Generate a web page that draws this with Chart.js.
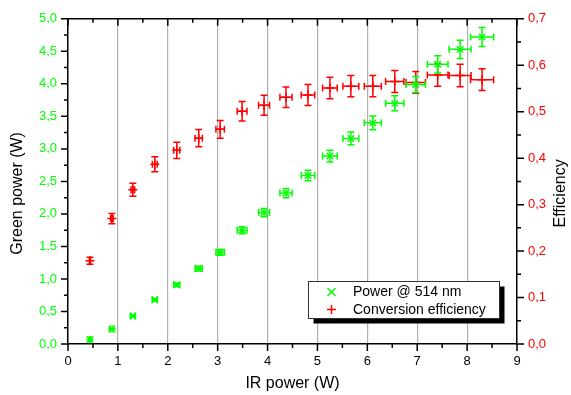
<!DOCTYPE html>
<html lang="en">
<head>
<meta charset="UTF-8">
<title>Green power and conversion efficiency</title>
<script src="https://cdn.jsdelivr.net/npm/chart.js"></script>
<style>
  body { margin: 0; background: #fff; }
  #wrap { width: 571px; height: 395px; }
</style>
</head>
<body>
<div id="wrap"><canvas id="chart"></canvas></div>
<script>
// IR pump power (W) with its error
const irPower    = [0.44, 0.88, 1.30, 1.74, 2.18, 2.62, 3.05, 3.49, 3.93, 4.37, 4.81, 5.25, 5.67, 6.11, 6.55, 6.97, 7.41, 7.86, 8.30];
const irPowerErr = [0.012, 0.025, 0.036, 0.049, 0.061, 0.073, 0.085, 0.098, 0.110, 0.122, 0.135, 0.147, 0.159, 0.171, 0.183, 0.195, 0.207, 0.220, 0.232];
// green output at 514 nm (W)
const greenPower    = [0.07, 0.23, 0.43, 0.68, 0.91, 1.16, 1.41, 1.75, 2.02, 2.32, 2.59, 2.89, 3.16, 3.40, 3.70, 3.99, 4.30, 4.53, 4.72];
const greenPowerErr = [0.003, 0.007, 0.013, 0.021, 0.028, 0.036, 0.044, 0.054, 0.063, 0.072, 0.080, 0.090, 0.098, 0.105, 0.115, 0.124, 0.133, 0.140, 0.146];
// conversion efficiency
const efficiency    = [0.179, 0.270, 0.332, 0.387, 0.417, 0.443, 0.462, 0.501, 0.514, 0.531, 0.536, 0.551, 0.555, 0.555, 0.565, 0.563, 0.579, 0.578, 0.569];
const efficiencyErr = [0.0075, 0.011, 0.014, 0.016, 0.0175, 0.0185, 0.019, 0.021, 0.0215, 0.022, 0.0225, 0.023, 0.023, 0.023, 0.0235, 0.0235, 0.024, 0.024, 0.0235];

const GREEN = '#00ff00';
const RED = '#ff0000';
const FONT = '"Liberation Sans", Arial, sans-serif';

const comma = v => v.toFixed(1).replace('.', ',');

const points = (ys, yErr) => irPower.map((x, i) => ({ x: x, y: ys[i], xErr: irPowerErr[i], yErr: yErr[i] }));

// crosshair error bars with caps
const errorBars = {
    id: 'errorBars',
    beforeDatasetDraw(chart, args) {
        const ctx = chart.ctx;
        const ds = chart.data.datasets[args.index];
        const xs = chart.scales[args.meta.xAxisID];
        const ys = chart.scales[args.meta.yAxisID];
        const cap = 3.5;
        ctx.save();
        ctx.strokeStyle = ds.borderColor;
        ctx.lineWidth = 1.5;
        ds.data.forEach(p => {
            const cx = xs.getPixelForValue(p.x), cy = ys.getPixelForValue(p.y);
            const x0 = xs.getPixelForValue(p.x - p.xErr), x1 = xs.getPixelForValue(p.x + p.xErr);
            const y0 = ys.getPixelForValue(p.y - p.yErr), y1 = ys.getPixelForValue(p.y + p.yErr);
            ctx.beginPath();
            ctx.moveTo(x0, cy); ctx.lineTo(x1, cy);
            ctx.moveTo(cx, y0); ctx.lineTo(cx, y1);
            ctx.moveTo(x0, cy - cap); ctx.lineTo(x0, cy + cap);
            ctx.moveTo(x1, cy - cap); ctx.lineTo(x1, cy + cap);
            ctx.moveTo(cx - cap, y0); ctx.lineTo(cx + cap, y0);
            ctx.moveTo(cx - cap, y1); ctx.lineTo(cx + cap, y1);
            ctx.stroke();
        });
        ctx.restore();
    }
};

// top frame, tick marks (major / minor), y titles and the boxed legend
const frame = {
    id: 'frame',
    afterDraw(chart) {
        const { ctx, chartArea: a, scales: { x, y, y2 } } = chart;
        const near = (v, step) => Math.abs(v / step - Math.round(v / step)) < 1e-6;
        ctx.save();
        ctx.strokeStyle = '#000';
        ctx.lineWidth = 1.5;
        ctx.beginPath();
        ctx.moveTo(a.left, a.top); ctx.lineTo(a.right, a.top);
        x.ticks.forEach(t => {
            const px = x.getPixelForValue(t.value);
            const len = near(t.value, 1) ? 7 : 4;
            ctx.moveTo(px, a.bottom); ctx.lineTo(px, a.bottom + len);
            ctx.moveTo(px, a.top); ctx.lineTo(px, a.top + len);
        });
        y.ticks.forEach(t => {
            const py = y.getPixelForValue(t.value);
            const len = near(t.value, 0.5) ? 7 : 4;
            ctx.moveTo(a.left - len, py); ctx.lineTo(a.left, py);
        });
        y2.ticks.forEach(t => {
            const py = y2.getPixelForValue(t.value);
            const len = near(t.value, 0.1) ? 7 : 4;
            ctx.moveTo(a.right, py); ctx.lineTo(a.right + len, py);
        });
        ctx.stroke();

        // axis titles (both read bottom to top)
        ctx.fillStyle = '#000';
        ctx.font = '16px ' + FONT;
        ctx.textAlign = 'center';
        ctx.textBaseline = 'middle';
        const midY = (a.top + a.bottom) / 2 + 12;
        [['Green power (W)', 18], ['Efficiency', 561]].forEach(([txt, tx]) => {
            ctx.save();
            ctx.translate(tx, midY);
            ctx.rotate(-Math.PI / 2);
            ctx.fillText(txt, 0, 0);
            ctx.restore();
        });

        // legend box with shadow
        const bx = a.right - 208.5, by = a.bottom - 62.5, bw = 191, bh = 37;
        ctx.fillStyle = '#000';
        ctx.fillRect(bx + 5, by + 5, bw, bh);
        ctx.fillStyle = '#fff';
        ctx.fillRect(bx, by, bw, bh);
        ctx.strokeStyle = '#333';
        ctx.lineWidth = 1;
        ctx.strokeRect(bx, by, bw, bh);
        ctx.font = '14px ' + FONT;
        ctx.textAlign = 'left';
        chart.data.datasets.forEach((ds, i) => {
            const ly = by + 10.5 + i * 17.5;
            const mx = bx + 23;
            ctx.strokeStyle = ds.borderColor;
            ctx.lineWidth = 1.5;
            ctx.beginPath();
            if (ds.pointStyle === 'crossRot') {
                ctx.moveTo(mx - 4, ly - 4); ctx.lineTo(mx + 4, ly + 4);
                ctx.moveTo(mx - 4, ly + 4); ctx.lineTo(mx + 4, ly - 4);
            } else {
                ctx.moveTo(mx - 4.5, ly); ctx.lineTo(mx + 4.5, ly);
                ctx.moveTo(mx, ly - 4.5); ctx.lineTo(mx, ly + 4.5);
            }
            ctx.stroke();
            ctx.fillStyle = '#000';
            ctx.fillText(ds.label, bx + 44.5, ly + 0.5);
        });
        ctx.restore();
    }
};

new Chart(document.getElementById('chart'), {
    type: 'scatter',
    data: {
        datasets: [
            {
                label: 'Power @ 514 nm',
                data: points(greenPower, greenPowerErr),
                yAxisID: 'y',
                borderColor: GREEN,
                backgroundColor: GREEN,
                pointStyle: 'crossRot',
                pointRadius: 4.5,
                borderWidth: 1.5
            },
            {
                label: 'Conversion efficiency',
                data: points(efficiency, efficiencyErr),
                yAxisID: 'y2',
                borderColor: RED,
                backgroundColor: RED,
                pointStyle: 'cross',
                pointRadius: 4.5,
                borderWidth: 1.5
            }
        ]
    },
    options: {
        responsive: true,
        maintainAspectRatio: false,
        animation: false,
        layout: { padding: { top: 15, left: 0, right: 0, bottom: 0 } },
        plugins: {
            legend: { display: false },
            tooltip: { enabled: false }
        },
        scales: {
            x: {
                type: 'linear',
                min: 0, max: 9,
                afterFit: s => { s.height = 51; },
                border: { color: '#000', width: 1.5 },
                grid: {
                    drawTicks: false,
                    lineWidth: 1.2,
                    color: c => (c.tick && Number.isInteger(c.tick.value) && c.tick.value > 0 && c.tick.value < 9) ? '#b0b0b0' : 'rgba(0,0,0,0)'
                },
                ticks: {
                    stepSize: 0.5,
                    autoSkip: false,
                    maxRotation: 0,
                    padding: 10,
                    color: '#000',
                    font: { family: FONT, size: 13 },
                    callback: v => Number.isInteger(v) ? String(v) : ''
                },
                title: {
                    display: true,
                    text: 'IR power (W)',
                    color: '#000',
                    font: { family: FONT, size: 16 },
                    padding: { top: 0, bottom: 1.5 }
                }
            },
            y: {
                position: 'left',
                min: 0, max: 5,
                afterFit: s => { s.width = 68; },
                border: { color: '#000', width: 1.5 },
                grid: { drawOnChartArea: false, drawTicks: false },
                ticks: {
                    stepSize: 0.25,
                    autoSkip: false,
                    padding: 11,
                    color: GREEN,
                    font: { family: FONT, size: 13 },
                    callback: v => Math.abs(v * 2 - Math.round(v * 2)) < 1e-6 ? comma(v) : ''
                }
            },
            y2: {
                position: 'right',
                min: 0, max: 0.7,
                afterFit: s => { s.width = 54; },
                border: { color: '#000', width: 1.5 },
                grid: { drawOnChartArea: false, drawTicks: false },
                ticks: {
                    stepSize: 0.05,
                    autoSkip: false,
                    padding: 11,
                    color: RED,
                    font: { family: FONT, size: 13 },
                    callback: v => Math.abs(v * 10 - Math.round(v * 10)) < 1e-6 ? comma(v) : ''
                }
            }
        }
    },
    plugins: [errorBars, frame]
});
</script>
</body>
</html>
